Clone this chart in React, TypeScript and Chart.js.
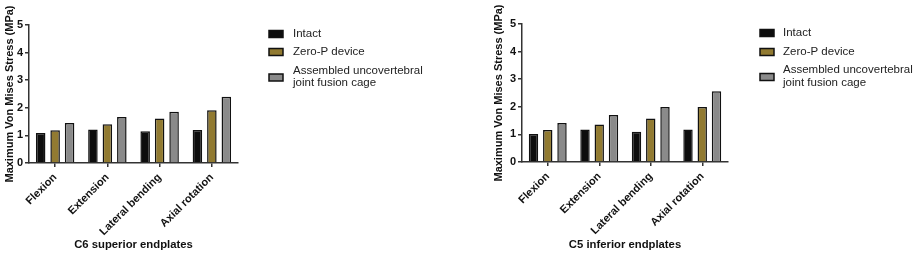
import React, { useEffect, useRef } from "react";
import { Chart, registerables } from "chart.js";

Chart.register(...registerables);

const categories = ["Flexion", "Extension", "Lateral bending", "Axial rotation"];
const seriesNames = ["Intact", "Zero-P device", "Assembled uncovertebral joint fusion cage"];
const legendLines = [["Intact"], ["Zero-P device"], ["Assembled uncovertebral", "joint fusion cage"]];
const c6Intact = [1.09, 1.21, 1.15, 1.2];
const c6ZeroP = [1.19, 1.4, 1.61, 1.91];
const c6Cage = [1.45, 1.67, 1.86, 2.4];
const c5Intact = [1.01, 1.18, 1.1, 1.18];
const c5ZeroP = [1.16, 1.36, 1.58, 1.99];
const c5Cage = [1.41, 1.7, 1.99, 2.56];
const yTicks = [0, 1, 2, 3, 4, 5];
const colors = ["#0d0d0d", "#917a31", "#8a8a8a"];

const FONT = '"Liberation Sans", Arial, Helvetica, sans-serif';

type PanelProps = {
  left: number;
  width: number;
  title: string;
  data: number[][];
  padLeft: number;
  padTop: number;
  padRight: number;
  yWidth: number;
  yTitlePad: number;
  xHeight: number;
  legendBoxX: number;
  legendTextX: number;
  legendY: number[][];
};

function Panel(p: PanelProps) {
  const ref = useRef<HTMLCanvasElement>(null);
  useEffect(() => {
    const legendPlugin = {
      id: "customLegend",
      afterDraw(chart: any) {
        const ctx = chart.ctx;
        ctx.save();
        ctx.font = `11.5px ${FONT}`;
        ctx.textBaseline = "middle";
        ctx.textAlign = "left";
        legendLines.forEach((lines, i) => {
          const ys = p.legendY[i];
          const boxY = ys.length > 1 ? (ys[0] + ys[1]) / 2 + 0.5 : ys[0];
          ctx.fillStyle = colors[i];
          ctx.fillRect(p.legendBoxX, boxY - 3.5, 14, 7);
          ctx.strokeStyle = "#111";
          ctx.lineWidth = 1.5;
          ctx.strokeRect(p.legendBoxX, boxY - 3.5, 14, 7);
          ctx.fillStyle = "#222";
          lines.forEach((t, j) => ctx.fillText(t, p.legendTextX, ys[j]));
        });
        ctx.restore();
      },
    };
    const chart = new Chart(ref.current!, {
      type: "bar",
      data: {
        labels: categories,
        datasets: seriesNames.map((name, i) => ({
          label: name,
          data: p.data[i],
          backgroundColor: colors[i],
          borderColor: "#111",
          borderWidth: 1.5,
          categoryPercentage: 0.83,
          barPercentage: 0.66,
        })),
      },
      options: {
        animation: false,
        responsive: false,
        maintainAspectRatio: false,
        layout: { padding: { left: p.padLeft, top: p.padTop, right: p.padRight, bottom: 0 } },
        plugins: { legend: { display: false }, tooltip: { enabled: false } },
        scales: {
          x: {
            grid: { offset: false, drawOnChartArea: false, drawTicks: true, tickLength: 4, color: "#333", lineWidth: 1.5 },
            border: { display: true, color: "#333", width: 1.5 },
            ticks: {
              minRotation: 45,
              maxRotation: 45,
              padding: 4,
              color: "#111",
              font: { family: FONT, size: 11, weight: "bold" },
            },
            title: {
              display: true,
              text: p.title,
              color: "#111",
              padding: { top: 0, bottom: 1 },
              font: { family: FONT, size: 11.3, weight: "bold" },
            },
            afterFit: (s: any) => {
              s.height = p.xHeight;
            },
          },
          y: {
            min: 0,
            max: 5,
            afterBuildTicks: (s: any) => {
              s.ticks = yTicks.map((v) => ({ value: v }));
            },
            grid: { drawOnChartArea: false, drawTicks: true, tickLength: 4, color: "#333", lineWidth: 1.5 },
            border: { display: true, color: "#333", width: 1.5 },
            ticks: {
              padding: 2,
              color: "#111",
              font: { family: FONT, size: 11, weight: "bold" },
            },
            title: {
              display: true,
              text: "Maximum Von Mises Stress (MPa)",
              color: "#111",
              padding: { top: p.yTitlePad, bottom: 0 },
              font: { family: FONT, size: 11, weight: "bold" },
            },
            afterFit: (s: any) => {
              s.width = p.yWidth;
            },
          },
        },
      },
      plugins: [legendPlugin],
    } as any);
    return () => chart.destroy();
  }, []);
  return (
    <canvas
      ref={ref}
      width={p.width}
      height={253}
      style={{ position: "absolute", left: p.left, top: 0, width: p.width, height: 253 }}
    />
  );
}

export default function App() {
  return (
    <div style={{ position: "fixed", left: 0, top: 0, width: 913, height: 253, background: "#fff" }}>
      <Panel
        left={0}
        width={456}
        title="C6 superior endplates"
        data={[c6Intact, c6ZeroP, c6Cage]}
        padLeft={0}
        padTop={25}
        padRight={218}
        yWidth={29}
        yTitlePad={3}
        xHeight={90}
        legendBoxX={269}
        legendTextX={293}
        legendY={[[34], [52], [71, 83]]}
      />
      <Panel
        left={456}
        width={457}
        title="C5 inferior endplates"
        data={[c5Intact, c5ZeroP, c5Cage]}
        padLeft={36}
        padTop={24}
        padRight={185}
        yWidth={30}
        yTitlePad={0}
        xHeight={91}
        legendBoxX={304}
        legendTextX={327}
        legendY={[[33], [52], [70, 83]]}
      />
    </div>
  );
}
